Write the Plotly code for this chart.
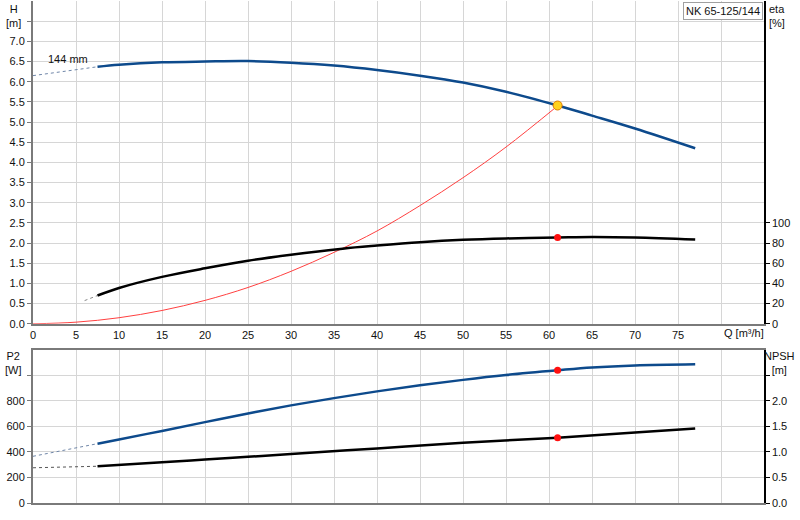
import plotly.graph_objects as go

# pump curve readings
q_head_dash = [0, 7.5]
head_dash = [6.15, 6.37]
q_head = [7.5, 10, 15, 20, 25, 30, 35, 40, 45, 50, 55, 61, 65, 70, 77]
head = [6.37, 6.42, 6.48, 6.50, 6.51, 6.47, 6.40, 6.29, 6.15, 5.98, 5.75, 5.41, 5.16, 4.84, 4.35]

q_sys = [0, 5, 10, 15, 20, 25, 30, 35, 40, 45, 50, 55, 61]
h_sys = [0, 0.04, 0.15, 0.33, 0.58, 0.9, 1.3, 1.77, 2.3, 2.93, 3.62, 4.38, 5.4]

q_eta_dash = [6, 7.5]
eta_dash = [23, 28]
q_eta = [7.5, 10, 15, 20, 25, 30, 36, 40, 45, 50, 55, 61, 65, 70, 77]
eta = [28, 35.5, 46.5, 55, 62.5, 68.5, 74.5, 77.5, 80.8, 83.2, 84.6, 85.5, 86, 85.5, 83.5]

q_p2_dash = [0, 7.5]
p2_dash = [366, 465]
q_p2 = [7.5, 10, 15, 20, 25, 30, 35, 40, 45, 50, 55, 61, 65, 70, 77]
p2 = [465, 498, 565, 634, 702, 765, 822, 875, 922, 965, 1003, 1040, 1062, 1078, 1087]

q_npsh_dash = [0, 7.5]
npsh_dash = [0.69, 0.72]
q_npsh = [7.5, 15, 20, 25, 30, 40, 50, 61, 70, 77]
npsh = [0.72, 0.80, 0.85, 0.905, 0.96, 1.07, 1.18, 1.28, 1.38, 1.46]

q_duty = 61
h_duty = 5.41
eta_duty = 85.5
p2_duty = 1040
npsh_duty = 1.28

q_ticks = list(range(0, 85, 5))
q_labels = [str(v) for v in range(0, 80, 5)] + [""]
h_ticks = [i * 0.5 for i in range(16)]
h_labels = ["%.1f" % v for v in h_ticks[:-1]] + [""]
eta_ticks = [0, 20, 40, 60, 80, 100]
p2_ticks = [0, 200, 400, 600, 800, 1000]
p2_labels = ["0", "200", "400", "600", "800", ""]
npsh_ticks = [0, 0.5, 1.0, 1.5, 2.0, 2.5]
npsh_labels = ["0.0", "0.5", "1.0", "1.5", "2.0", ""]

blue = "#0d4a8c"
grid = "#d6d6d6"
axis_gray = "#7a7a7a"

fig = go.Figure()
fig.add_trace(go.Scatter(x=q_head_dash, y=head_dash, mode="lines",
                         line=dict(color="#6f86a8", width=1, dash="dot"), xaxis="x", yaxis="y"))
fig.add_trace(go.Scatter(x=q_head, y=head, mode="lines", line=dict(color=blue, width=2.5, shape="spline"),
                         xaxis="x", yaxis="y"))
fig.add_trace(go.Scatter(x=q_sys, y=h_sys, mode="lines", line=dict(color="#ff4040", width=1, shape="spline"),
                         xaxis="x", yaxis="y"))
fig.add_trace(go.Scatter(x=q_eta_dash, y=eta_dash, mode="lines",
                         line=dict(color="#888888", width=1, dash="dot"), xaxis="x", yaxis="y2"))
fig.add_trace(go.Scatter(x=q_eta, y=eta, mode="lines", line=dict(color="black", width=2.5, shape="spline"),
                         xaxis="x", yaxis="y2"))
fig.add_trace(go.Scatter(x=[q_duty], y=[eta_duty], mode="markers",
                         marker=dict(color="#ff1010", size=7), xaxis="x", yaxis="y2"))
fig.add_trace(go.Scatter(x=[q_duty], y=[h_duty], mode="markers",
                         marker=dict(color="#ffd21f", size=9, line=dict(color="#e07b00", width=1)),
                         xaxis="x", yaxis="y"))

fig.add_trace(go.Scatter(x=q_p2_dash, y=p2_dash, mode="lines",
                         line=dict(color="#6f86a8", width=1, dash="dot"), xaxis="x2", yaxis="y3"))
fig.add_trace(go.Scatter(x=q_p2, y=p2, mode="lines", line=dict(color=blue, width=2.5, shape="spline"),
                         xaxis="x2", yaxis="y3"))
fig.add_trace(go.Scatter(x=[q_duty], y=[p2_duty], mode="markers",
                         marker=dict(color="#ff1010", size=7), xaxis="x2", yaxis="y3"))
fig.add_trace(go.Scatter(x=q_npsh_dash, y=npsh_dash, mode="lines",
                         line=dict(color="#555555", width=1, dash="dot"), xaxis="x2", yaxis="y4"))
fig.add_trace(go.Scatter(x=q_npsh, y=npsh, mode="lines", line=dict(color="black", width=2.5, shape="spline"),
                         xaxis="x2", yaxis="y4"))
fig.add_trace(go.Scatter(x=[q_duty], y=[npsh_duty], mode="markers",
                         marker=dict(color="#ff1010", size=7), xaxis="x2", yaxis="y4"))

font = dict(family="Liberation Sans, Arial", size=11, color="#111111")

fig.update_layout(
    width=800, height=520, showlegend=False,
    margin=dict(l=33, r=36, t=1, b=17),
    paper_bgcolor="white", plot_bgcolor="white", font=font,
    xaxis=dict(domain=[0, 1], range=[0, 85], anchor="y", tickvals=q_ticks, ticktext=q_labels,
               showgrid=True, gridcolor=grid, gridwidth=1, zeroline=False, automargin=False,
               showline=True, linecolor=axis_gray, linewidth=2, ticks=""),
    yaxis=dict(domain=[0.357, 1], range=[0, 8], anchor="x", tickvals=h_ticks, ticktext=h_labels,
               showgrid=True, gridcolor=grid, gridwidth=1, zeroline=False, automargin=False,
               showline=True, linecolor=axis_gray, linewidth=2,
               ticks="outside", ticklen=4, tickcolor=axis_gray),
    yaxis2=dict(overlaying="y", side="right", anchor="x", range=[0, 320], tickvals=eta_ticks,
                showgrid=False, zeroline=False, showline=True, linecolor="black", linewidth=1.5,
                automargin=False, ticks="outside", ticklen=4, tickcolor="black"),
    xaxis2=dict(domain=[0, 1], range=[0, 85], anchor="y3", tickvals=q_ticks, showticklabels=False,
                showgrid=True, gridcolor=grid, gridwidth=1, zeroline=False, automargin=False,
                showline=True, mirror=True, linecolor=axis_gray, linewidth=2, ticks=""),
    yaxis3=dict(domain=[0, 0.305], range=[0, 1200], anchor="x2", tickvals=p2_ticks, ticktext=p2_labels,
                showgrid=True, gridcolor=grid, gridwidth=1, zeroline=False, automargin=False,
                showline=True, linecolor=axis_gray, linewidth=2,
                ticks="outside", ticklen=4, tickcolor=axis_gray),
    yaxis4=dict(overlaying="y3", side="right", anchor="x2", range=[0, 3], tickvals=npsh_ticks,
                ticktext=npsh_labels, showgrid=False, zeroline=False, automargin=False,
                showline=True, linecolor="black", linewidth=1.5,
                ticks="outside", ticklen=4, tickcolor="black"),
)

fig.add_annotation(text="H<br>[m]", xref="paper", yref="paper", x=-0.026, y=1.0,
                   xanchor="center", yanchor="top", showarrow=False, font=font)
fig.add_annotation(text="eta<br>[%]", xref="paper", yref="paper", x=1.004, y=1.0,
                   xanchor="left", yanchor="top", align="left", showarrow=False, font=font)
fig.add_annotation(text="P2<br>[W]", xref="paper", yref="paper", x=-0.026, y=0.309,
                   xanchor="center", yanchor="top", showarrow=False, font=font)
fig.add_annotation(text="NPSH<br>[m]", xref="paper", yref="paper", x=1.021, y=0.309,
                   xanchor="center", yanchor="top", showarrow=False, font=font)
fig.add_annotation(text="Q [m³/h]", xref="paper", yref="paper", x=0.9425, y=0.3386,
                   xanchor="left", yanchor="middle", showarrow=False, font=font)
fig.add_annotation(text="144 mm", xref="x", yref="y", x=4.1, y=6.57,
                   showarrow=False, font=font)
fig.add_annotation(text="NK 65-125/144", xref="paper", yref="paper", x=0.999, y=0.999,
                   xanchor="right", yanchor="top", showarrow=False, font=font,
                   bgcolor="white", bordercolor="#a0a0a0", borderwidth=1, borderpad=2)

# the page's default body margin would shift the chart by 8px
fig.write_html("out.html", config={"displayModeBar": False},
               post_script="document.body.style.margin='0px';")
